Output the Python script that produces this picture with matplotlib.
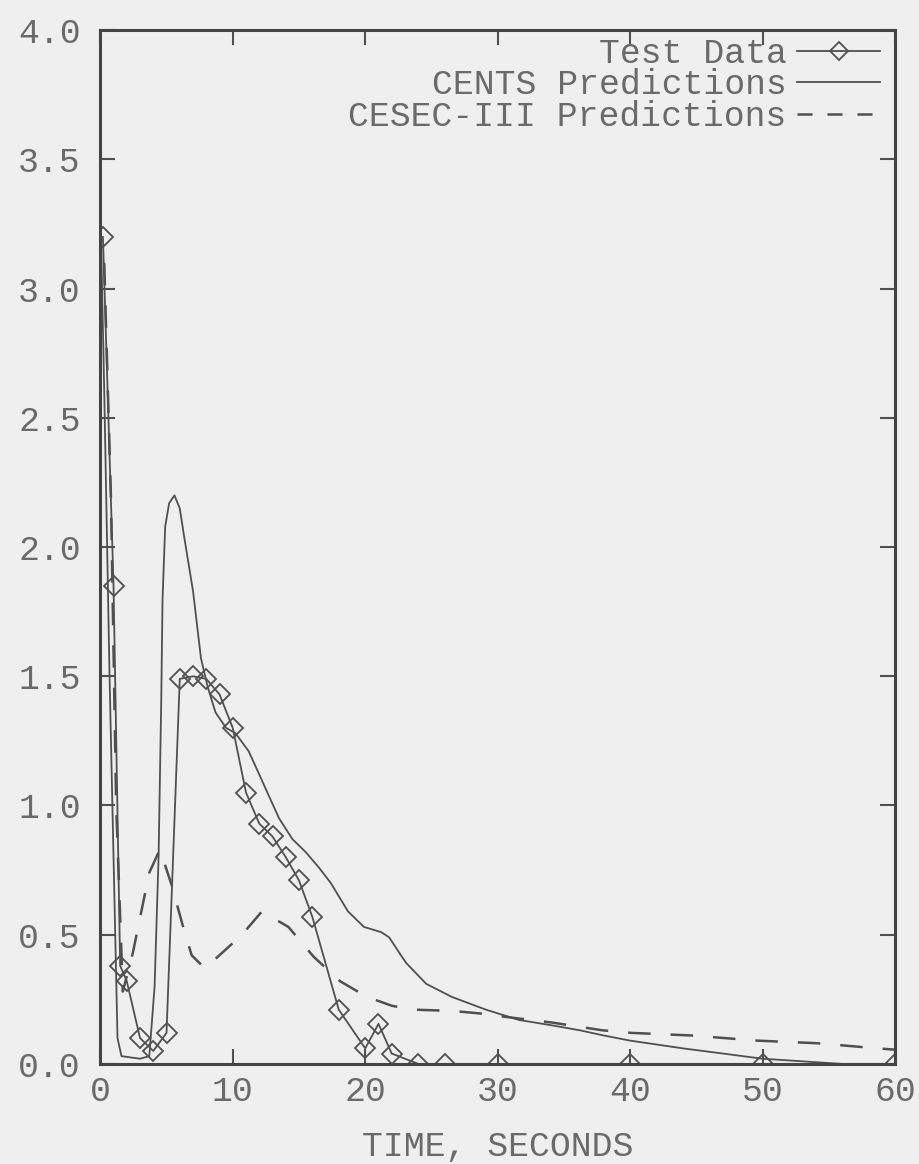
import numpy as np
import matplotlib.pyplot as plt
from matplotlib.lines import Line2D


plt.rcParams.update({"font.family": ["Liberation Mono", "DejaVu Sans Mono"],
                     "font.size": 25})

# ================================ data =======================================

### test data (time in s, value) ###
test_t = [0.2, 1.0, 1.5, 2.0, 3.0, 4.0, 5.0, 6.0, 7.0, 8.0, 9.0, 10.0, 11.0,
          12.0, 13.0, 14.0, 15.0, 16.0, 18.0, 20.0, 21.0, 22.0, 24.0, 26.0,
          30.0, 40.0, 50.0, 60.0]
test_v = [3.20, 1.85, 0.38, 0.32, 0.10, 0.05, 0.12, 1.49, 1.50, 1.49, 1.43,
          1.30, 1.05, 0.93, 0.88, 0.80, 0.71, 0.57, 0.21, 0.06, 0.155, 0.04,
          0.0, 0.0, 0.0, 0.0, 0.0, 0.0]

### CENTS predictions ###
cents_t = [0.0, 0.3, 0.7, 1.0, 1.3, 1.6, 3.0, 3.7, 4.1, 4.4, 4.6, 4.7, 4.9,
           5.2, 5.6, 6.0, 6.3, 7.0, 7.6, 8.1, 8.7, 9.5, 10.2, 11.2, 12.0,
           12.7, 13.5, 14.5, 15.5, 16.5, 17.4, 18.7, 19.9, 21.2, 21.8, 22.7,
           23.1, 24.6, 26.5, 29.1, 31.6, 34.0, 36.2, 38.0, 40.0, 44.0, 47.0,
           50.0, 53.0, 56.0, 60.0]
cents_v = [3.33, 2.60, 1.50, 0.80, 0.10, 0.03, 0.02, 0.03, 0.30, 0.80, 1.40,
           1.80, 2.08, 2.17, 2.20, 2.15, 2.05, 1.83, 1.57, 1.46, 1.36, 1.30,
           1.28, 1.21, 1.12, 1.04, 0.95, 0.87, 0.82, 0.76, 0.70, 0.59, 0.53,
           0.51, 0.49, 0.42, 0.39, 0.31, 0.26, 0.21, 0.17, 0.15, 0.13, 0.11,
           0.09, 0.06, 0.04, 0.02, 0.01, 0.0, 0.0]

### CESEC-III predictions ###
cesec_t = [0.3, 0.8, 1.2, 1.7, 2.46, 3.7, 4.5, 5.4, 6.2, 6.9, 7.9, 9.2, 10.7,
           12.2, 14.2, 16.1, 18.1, 20.1, 22.0, 23.6, 26.6, 28.7, 30.9, 34.1,
           37.9, 40.1, 44.6, 49.6, 54.1, 58.7, 60.0]
cesec_v = [3.10, 2.20, 1.00, 0.28, 0.43, 0.74, 0.83, 0.69, 0.54, 0.42, 0.37,
           0.43, 0.50, 0.59, 0.53, 0.415, 0.32, 0.26, 0.225, 0.21, 0.205,
           0.195, 0.18, 0.16, 0.13, 0.12, 0.11, 0.09, 0.08, 0.06, 0.055]

x_ticks = [0, 10, 20, 30, 40, 50, 60]
y_ticks = [0.0, 0.5, 1.0, 1.5, 2.0, 2.5, 3.0, 3.5, 4.0]

bg = '#efefef'
ink = '#505050'
txt = '#6a6a6a'

# ================================ plot =======================================

fig = plt.figure(figsize=(9.2, 11.64), dpi=100, facecolor=bg)
ax = fig.add_axes([0.109, 0.086, 0.864, 0.888], facecolor=bg)

ax.plot(test_t, test_v, color=ink, lw=1.3, marker='D', markersize=10.5,
        mfc='none', mec=ink, mew=1.3)
ax.plot(cents_t, cents_v, color=ink, lw=1.3)
ax.plot(cesec_t, cesec_v, color=ink, lw=1.8, dashes=(9, 8))

ax.set_xlim(0, 60)
ax.set_ylim(0, 4.0)
ax.set_xticks(x_ticks)
ax.set_yticks(y_ticks)
ax.set_yticklabels(["%.1f" % v for v in y_ticks])
ax.tick_params(direction='in', length=11, width=1.5, color=ink,
               labelcolor=txt, top=True, right=True)
ax.tick_params(axis='y', pad=14)
ax.tick_params(axis='x', pad=8)
for s in ax.spines.values():
    s.set_linewidth(2.2)
    s.set_color('#444444')

ax.set_xlabel("TIME, SECONDS", color=txt, labelpad=16)

handles = [Line2D([0], [0], color=ink, lw=1.3, marker='D', markersize=9,
                  mfc='none', mec=ink, mew=1.3, label='Test Data'),
           Line2D([0], [0], color=ink, lw=1.3, label='CENTS Predictions'),
           Line2D([0], [0], color=ink, lw=1.8, dashes=(6, 6),
                  label='CESEC-III Predictions')]
leg = ax.legend(handles=handles, loc='upper right', bbox_to_anchor=(0.99, 1.0),
                frameon=False, markerfirst=False, handlelength=2.4,
                handletextpad=0.3, labelspacing=-0.05, borderaxespad=0.0,
                borderpad=0.2, fontsize=25)
for t in leg.get_texts():
    t.set_color(txt)

plt.savefig('out.png', facecolor=bg)
